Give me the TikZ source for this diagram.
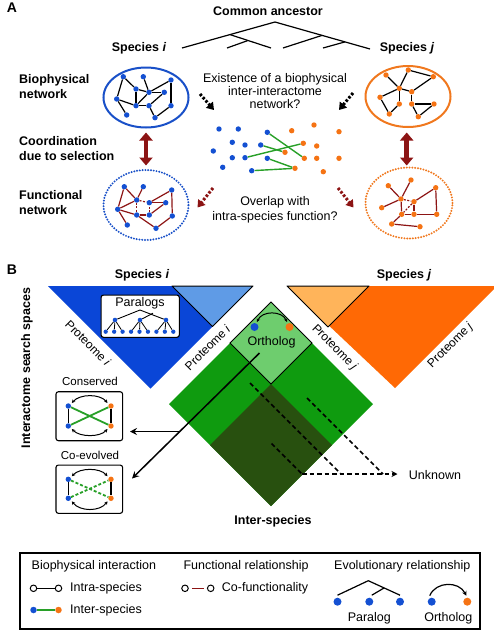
\documentclass[tikz,border=0pt]{standalone}
\usepackage{fontspec}
\setmainfont{Liberation Sans}
\usetikzlibrary{arrows.meta,shapes.geometric,calc}
\definecolor{nblue}{RGB}{20,80,210}
\definecolor{norange}{RGB}{245,115,20}
\definecolor{dred}{RGB}{140,20,20}
\definecolor{tblue}{RGB}{10,70,215}
\definecolor{tlblue}{RGB}{95,155,230}
\definecolor{torange}{RGB}{255,105,5}
\definecolor{tlorange}{RGB}{255,180,90}
\definecolor{gmid}{RGB}{15,155,15}
\definecolor{glight}{RGB}{110,205,110}
\definecolor{gdark}{RGB}{40,80,15}
\definecolor{igreen}{RGB}{40,160,40}
\definecolor{ellblue}{RGB}{25,80,200}
\definecolor{ellorange}{RGB}{240,120,30}
\begin{document}
\begin{tikzpicture}[x=1pt,y=-1pt,
  every node/.style={inner sep=0pt},
  fnt/.style={font=\fontsize{12.5}{15}\selectfont},
  bfnt/.style={font=\bfseries\fontsize{12.5}{15}\selectfont},
  pfnt/.style={font=\fontsize{12}{14}\selectfont},
  bd/.style={circle,fill=nblue,minimum size=5.4pt},
  od/.style={circle,fill=norange,minimum size=5.4pt},
  sbd/.style={circle,fill=nblue,minimum size=4.6pt},
  sod/.style={circle,fill=norange,minimum size=4.6pt},
  ocirc/.style={circle,draw=black,line width=1pt,fill=white,minimum size=6.5pt},
  bio/.style={line width=1.2pt},
  fun/.style={line width=1.2pt,dred},
  fund/.style={fun,dash pattern=on 2pt off 1.5pt},
  ie/.style={line width=1.4pt,igreen},
  dblarr/.style={dred,line width=4.5pt,{Triangle[length=8pt,width=13pt]}-{Triangle[length=8pt,width=13pt]}},
  darr/.style={line width=3pt,dash pattern=on 2.5pt off 1.8pt,-{Triangle[length=7pt,width=9pt]}},
  blk/.style={line width=1.5pt,-{Stealth[length=7pt,width=7pt,inset=2.5pt]}},
  dsh/.style={line width=1.7pt,dash pattern=on 4.5pt off 3pt},
  arcd/.style={line width=1pt,{Stealth[length=3.5pt,width=3.5pt]}-{Stealth[length=3.5pt,width=3.5pt]}},
  boxs/.style={draw,line width=1.1pt,rounded corners=2.5pt,fill=white},
]
\useasboundingbox (0,0) rectangle (494,630);

% ===================== A =====================
\node[font=\bfseries\fontsize{14}{16}\selectfont] (labA) at (12,8) {A};
\node[bfnt] (anc) at (268,11) {Common ancestor};
% tree
\draw[line width=1.2pt] (182,48) -- (275,22) -- (370,49);
\draw[line width=1.2pt] (230,34.6) -- (271,48);
\draw[line width=1.2pt] (227,48) -- (248,40.5);
\draw[line width=1.2pt] (322,35.4) -- (283,48);
\draw[line width=1.2pt] (323,48) -- (345,41.9);
\node[bfnt] (spiA) at (139,48) {Species \textit{i}};
\node[bfnt] (spjA) at (407,48) {Species \textit{j}};

\node[bfnt,align=left,anchor=west] (lbio) at (19,86.5) {Biophysical\\network};
\node[bfnt,align=left,anchor=west] (lcoord) at (19,148.5) {Coordination\\due to selection};
\node[bfnt,align=left,anchor=west] (lfun) at (19,202.5) {Functional\\network};

% ellipses
\node[ellipse,draw=ellblue,line width=2pt,minimum width=85pt,minimum height=60pt] (bell) at (146,97.5) {};
\node[ellipse,draw=ellorange,line width=2pt,minimum width=85pt,minimum height=61pt] (oell) at (408,96.5) {};
\node[ellipse,draw=ellblue,line width=2.2pt,dash pattern=on 0pt off 2.8pt,line cap=round,minimum width=85pt,minimum height=70pt] (bfell) at (146,205) {};
\node[ellipse,draw=ellorange,line width=2.2pt,dash pattern=on 0pt off 2.8pt,line cap=round,minimum width=87pt,minimum height=71pt] (ofell) at (409,203) {};

% blue biophysical network
\foreach \n/\x/\y in {n1/123.3/76.7,n2/143.3/76.7,n3/171/80,n4/136/89,n5/149/92.3,n6/164.3/92.3,n7/116.7/99,n8/136/105.7,n9/149/105.7,n10/171/105.7,n11/126.7/115,n12/155/117.7}
  \node[bd] (\n) at (\x,\y) {};
\foreach \a/\b in {n1/n4,n1/n7,n2/n5,n3/n5,n3/n10,n4/n8,n4/n5,n5/n6,n8/n5,n6/n9,n7/n8,n7/n11,n8/n9,n9/n12,n12/n10}
  \draw[bio] (\a) -- (\b);

% orange biophysical network
\foreach \n/\x/\y in {o1/386/75,o2/408.3/70,o3/433.3/76.7,o4/399.3/88.3,o5/411.7/91.7,o6/380/97.3,o7/399.3/104,o8/411.7/104,o9/434/104,o10/389.3/114,o11/418.3/116.7}
  \node[od] (\n) at (\x,\y) {};
\foreach \a/\b in {o1/o4,o4/o2,o2/o3,o3/o5,o4/o5,o4/o6,o6/o10,o10/o7,o7/o4,o5/o8,o8/o9,o9/o11,o11/o8}
  \draw[bio] (\a) -- (\b);

% blue functional network
\foreach \n/\x/\y in {f1/124.3/186.7,f2/143.3/186.7,f3/171.7/190,f4/136.7/200,f5/149.3/202.7,f6/165.7/202.7,f7/117.7/209.3,f8/136.7/215,f9/149.3/215,f10/172.3/216,f11/127.3/225,f12/156/228.3}
  \node[bd] (\n) at (\x,\y) {};
\foreach \a/\b in {f1/f4,f1/f7,f2/f4,f4/f7,f5/f3,f5/f6,f7/f8,f7/f11,f8/f9,f9/f6,f10/f12,f8/f12,f3/f10}
  \draw[fun] (\a) -- (\b);
\foreach \a/\b in {f4/f5,f4/f8,f9/f5}
  \draw[fund] (\a) -- (\b);

% orange functional network
\foreach \n/\x/\y in {g1/388.3/185.7,g2/411/180,g3/435.7/187.7,g4/401/199,g5/414/201.7,g6/381.7/207.7,g7/401.7/214.3,g8/414/214.3,g9/436.7/214.3,g10/391.7/224,g11/420/226.7}
  \node[od] (\n) at (\x,\y) {};
\foreach \a/\b in {g1/g4,g2/g4,g3/g5,g3/g9,g4/g6,g4/g7,g5/g8,g7/g8,g8/g9,g7/g10,g10/g11}
  \draw[fun] (\a) -- (\b);
\foreach \a/\b in {g4/g5,g5/g7}
  \draw[fund] (\a) -- (\b);

% middle inter-interactome
\node[fnt,align=center,font=\fontsize{12.5}{13.3}\selectfont] (qexist) at (275,91) {Existence of a biophysical\\inter-interactome\\network?};
\foreach \n/\x/\y in {b1/219/129,b2/238.3/129,b3/267.3/132.3,b4/232.3/142.3,b5/245/145,b6/260.7/145,b7/213.3/151,b8/232.3/157.7,b9/245/157.7,b10/267.3/158.3,b11/222.7/167.3,b12/251.7/170.7}
  \node[bd] (\n) at (\x,\y) {};
\foreach \n/\x/\y in {q1/291.7/130.7,q2/314/125,q3/339/131.7,q4/303.3/143.3,q5/316.7/146,q6/285/152.3,q7/304.3/158.3,q8/316.7/158.3,q9/339/158.3,q10/295/168.3,q11/323.3/171.7}
  \node[od] (\n) at (\x,\y) {};
\foreach \a/\b in {b3/q7,b9/q4,b6/q6,b10/q10,b12/q10}
  \draw[ie] (\a) -- (\b);

\node[fnt,align=center] (qover) at (275,209.5) {Overlap with\\intra-species function?};

% arrows
\coordinate (da1s) at (200,94);   \coordinate (da1e) at (214,110);
\coordinate (da2s) at (353,93);   \coordinate (da2e) at (339,110);
\coordinate (dr1s) at (213,188);  \coordinate (dr1e) at (197.5,207.5);
\coordinate (dr2s) at (338,188);  \coordinate (dr2e) at (353.5,207.5);
\draw[darr] (da1s) -- (da1e);
\draw[darr] (da2s) -- (da2e);
\draw[darr,dred] (dr1s) -- (dr1e);
\draw[darr,dred] (dr2s) -- (dr2e);
\coordinate (ca1) at (146,132.5); \coordinate (ca2) at (146,165.5);
\coordinate (cb1x) at (406.7,132.5); \coordinate (cb2x) at (406.7,165.5);
\draw[dblarr] (ca1) -- (ca2);
\draw[dblarr] (cb1x) -- (cb2x);

% ===================== B =====================
\node[font=\bfseries\fontsize{14}{16}\selectfont] (labB) at (12,270) {B};
\node[bfnt] (spiB) at (142,275) {Species \textit{i}};
\node[bfnt] (spjB) at (404,275) {Species \textit{j}};
\node[bfnt,rotate=90] (iss) at (27,368) {Interactome search spaces};

% triangles
\fill[tblue] (48,286) -- (253,286) -- (150.5,388.5) -- cycle;
\filldraw[fill=tlblue,draw=black,line width=1pt,line join=round] (172,286) -- (253,286) -- (212.5,326.5) -- cycle;
\fill[torange] (287,286) -- (494,286) -- (494,289) -- (395,388) -- cycle;
\filldraw[fill=tlorange,draw=black,line width=1pt,line join=round] (287,286) -- (369,286) -- (328,327) -- cycle;

% green diamonds
\fill[gmid] (271,302) -- (373,404) -- (271,506) -- (169,404) -- cycle;
\fill[gdark] (271,384) -- (332,445) -- (271,506) -- (210,445) -- cycle;
\filldraw[fill=glight,draw=black,line width=1pt] (271,302) -- (312,343) -- (271,384) -- (230,343) -- cycle;

% proteome labels
\node[pfnt,rotate=-45] (pi1) at (88,343) {Proteome \textit{i}};
\node[pfnt,rotate=45] (pi2) at (207.5,347.5) {Proteome \textit{i}};
\node[pfnt,rotate=-45] (pj1) at (334.5,347.5) {Proteome \textit{j}};
\node[pfnt,rotate=45] (pj2) at (450.5,345.5) {Proteome \textit{j}};

% ortholog
\node[circle,fill=nblue,minimum size=8pt] (orb) at (254.5,327) {};
\node[circle,fill=norange,minimum size=8pt] (oro) at (289.5,327) {};
\draw[arcd] ($(orb)+(2.5,-5)$) .. controls (262,310.5) and (282,310.5) .. ($(oro)+(-2.5,-5)$);
\node[fnt] (ortxt) at (271.5,342) {Ortholog};

% paralogs box
\node[boxs,minimum width=78.3pt,minimum height=42.3pt] (pbox) at (140.2,316.2) {};
\node[fnt] (partxt) at (140,303) {Paralogs};
\node[sbd] (p1) at (115,320) {};
\node[sbd] (p2) at (140,320) {};
\node[sbd] (p3) at (166,320) {};
\foreach \k in {1,...,9} {
  \node[sbd,minimum size=4.3pt] (pb\k) at ({105.7+8.45*(\k-1)},331.7) {};
}
\coordinate (ppeak) at (140,310);
\coordinate (pjoin) at (153,313.2);
\draw[line width=0.9pt] (p1) -- (ppeak) -- (p3);
\draw[line width=0.9pt] (p2) -- (pjoin);
\foreach \t/\a/\b/\c in {p1/1/2/3,p2/4/5/6,p3/7/8/9} {
  \draw[line width=0.8pt] (\t) -- (pb\a);
  \draw[line width=0.8pt] (\t) -- (pb\b);
  \draw[line width=0.8pt] (\t) -- (pb\c);
}

% conserved box
\node[font=\fontsize{11.5}{13}\selectfont] (constxt) at (90,381.7) {Conserved};
\node[boxs,minimum width=66.7pt,minimum height=49pt] (cbox) at (89.3,416.2) {};
\node[bd] (cb1) at (68.3,406) {};
\node[bd] (cb2) at (68.3,426) {};
\node[od] (co1) at (111,406) {};
\node[od] (co2) at (111,426) {};
\draw[line width=1.6pt] (cb1) -- (cb2);
\draw[line width=1.6pt] (co1) -- (co2);
\draw[ie,line width=1.8pt] (cb1) -- (co2);
\draw[ie,line width=1.8pt] (cb2) -- (co1);
\draw[arcd] ($(cb1)+(3.5,-3)$) .. controls (80,393.7) and (100,393.7) .. ($(co1)+(-3.5,-3)$);
\draw[arcd] ($(cb2)+(3.5,3)$) .. controls (80,437.3) and (100,437.3) .. ($(co2)+(-3.5,3)$);

% co-evolved box
\node[font=\fontsize{11.5}{13}\selectfont] (coevtxt) at (90,455.7) {Co-evolved};
\node[boxs,minimum width=66.7pt,minimum height=48.3pt] (ebox) at (89.3,489.2) {};
\node[bd] (eb1) at (68.3,479.3) {};
\node[bd] (eb2) at (68.3,498.3) {};
\node[od] (eo1) at (111,479.3) {};
\node[od] (eo2) at (111,498.3) {};
\draw[line width=1.6pt] (eb1) -- (eb2);
\draw[line width=1.6pt] (eo1) -- (eo2);
\draw[ie,line width=1.8pt,dash pattern=on 3pt off 2pt] (eb1) -- (eo2);
\draw[ie,line width=1.8pt,dash pattern=on 3pt off 2pt] (eb2) -- (eo1);
\draw[arcd] ($(eb1)+(3.5,-3)$) .. controls (80,467.6) and (100,467.6) .. ($(eo1)+(-3.5,-3)$);
\draw[arcd] ($(eb2)+(3.5,3)$) .. controls (80,511.7) and (100,511.7) .. ($(eo2)+(-3.5,3)$);

% black arrows
\coordinate (asrc) at (259.5,353);
\coordinate (abr) at (180,431.5);
\coordinate (aend1) at (132,478.5);
\coordinate (aend2) at (130,431.5);
\draw[blk] (asrc) -- (aend1);
\draw[blk] (abr) -- (aend2);

% dashed lines to unknown
\node[fnt] (unk) at (435,475) {Unknown};
\coordinate (d1s) at (250,383);   \coordinate (d1e) at (341,474);
\coordinate (d2s) at (307,398);   \coordinate (d2e) at (383,474);
\coordinate (d3s) at (271.5,443.5); \coordinate (d3e) at (302,474);
\coordinate (uarr) at (397.5,474);
\draw[dsh] (d1s) -- (d1e);
\draw[dsh] (d2s) -- (d2e);
\draw[dsh] (d3s) -- (d3e);
\draw[dsh,-{Stealth[length=6pt,width=6pt,inset=2pt]}] (d3e) -- (uarr);

\node[bfnt] (intersp) at (273,521.5) {Inter-species};

% ===================== Legend =====================
\node[draw,line width=1.2pt,minimum width=460pt,minimum height=76pt] (legbox) at (250,591) {};
\node[fnt,anchor=west] (lg1) at (31.5,566.5) {Biophysical interaction};
\node[fnt,anchor=west] (lg2) at (183.3,566.5) {Functional relationship};
\node[fnt,anchor=west] (lg3) at (334,566.5) {Evolutionary relationship};

\node[ocirc] (la1) at (33.5,588.3) {};
\node[ocirc] (la2) at (58.5,588.3) {};
\draw[line width=1.5pt] (la1) -- (la2);
\node[fnt,anchor=west] (lt1) at (70,588.3) {Intra-species};
\node[circle,fill=nblue,minimum size=6.5pt] (lb1) at (33.5,610) {};
\node[circle,fill=norange,minimum size=6.5pt] (lb2) at (58.5,610) {};
\draw[ie,line width=1.6pt] (lb1) -- (lb2);
\node[fnt,anchor=west] (lt2) at (70,610) {Inter-species};

\node[ocirc] (lc1) at (185,588.3) {};
\node[ocirc] (lc2) at (210.7,588.3) {};
\draw[dred,line width=1.6pt,shorten <=3pt,shorten >=3pt] (lc1) -- (lc2);
\node[fnt,anchor=west] (lt3) at (221.7,588.3) {Co-functionality};

\node[circle,fill=nblue,minimum size=8pt] (lp1) at (337.5,601.7) {};
\node[circle,fill=nblue,minimum size=8pt] (lp2) at (369.3,601.7) {};
\node[circle,fill=nblue,minimum size=8pt] (lp3) at (400,601.7) {};
\coordinate (lpk) at (368.3,580.7);
\coordinate (lpj) at (384,588);
\draw[line width=1.2pt] ($(lp1)+(0,-6.5)$) -- (lpk) -- ($(lp3)+(0,-6.5)$);
\draw[line width=1.2pt] ($(lp2)+(2.5,-6.5)$) -- (lpj);
\node[fnt] (lpt) at (369.3,618.3) {Paralog};

\node[circle,fill=nblue,minimum size=8pt] (lo1) at (431.7,601.7) {};
\node[circle,fill=norange,minimum size=8pt] (lo2) at (467.3,601.7) {};
\draw[line width=1.2pt,-{Stealth[length=4.5pt,width=4.5pt]}] ($(lo1)+(-2,-6)$) .. controls (436,581) and (459,581) .. ($(lo2)+(-1,-6)$);
\node[fnt] (lot) at (448.3,618.3) {Ortholog};
\end{tikzpicture}
\end{document}
